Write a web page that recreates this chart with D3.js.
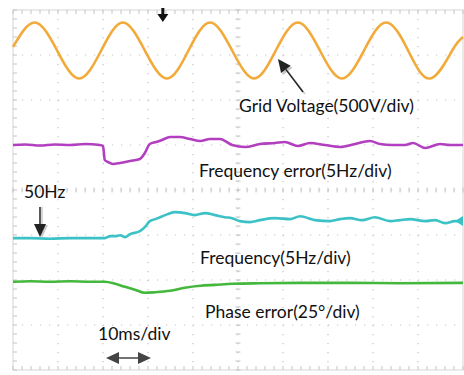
<!DOCTYPE html>
<html>
<head>
<meta charset="utf-8">
<script src="https://cdn.jsdelivr.net/npm/d3@7"></script>
<style>
  body { margin: 0; background: #fff; }
  text { font-family: Lato, "Open Sans", sans-serif; fill: #111; }
</style>
</head>
<body>
<script>
// scope screen: 10 x 8 divisions, 10 ms/div
var xDivs = 10, yDivs = 8, msPerDiv = 10;

// grid voltage (time in ms, volts)
var voltMs = [0, 4.9, 9.8, 14.7, 19.6, 24.4, 29.3, 34.2, 39.0, 43.8, 48.7, 53.6, 58.4, 63.3, 68.2, 73.1, 78.0, 82.9, 87.8, 92.7, 97.6, 100];
var voltV  = [40, 311, 0, -311, 0, 311, 0, -311, 0, 311, 0, -311, 0, 311, 0, -311, 0, 311, 0, -311, 0, 150];

// frequency error (ms, Hz)
var ferrMs = [0, 2.7, 6.0, 9.3, 12.7, 16.0, 19.3, 20.0, 20.4, 21.1, 22.2, 23.8, 26.0, 28.2, 29.3, 30.4, 31.8, 33.1, 34.9, 37.1, 39.3, 41.6, 43.8, 46.0, 48.7, 51.6, 54.9, 58.2, 60.4, 63.3, 66.0, 69.3, 72.7, 76.0, 79.3, 81.6, 84.2, 87.1, 88.9, 91.6, 94.9, 97.1, 100];
var ferrHz = [0, 0.06, -0.06, 0.06, 0, 0.11, 0, -0.11, -1.67, -1.89, -2.11, -2.0, -1.78, -1.56, -0.89, 0.11, 0.33, 0.56, 0.89, 0.89, 0.67, 0.44, 0.67, 0.67, 0, -0.22, 0.11, 0.22, 0.33, -0.11, 0.22, 0, -0.22, 0.11, 0.44, 0.11, 0, 0, 0.22, -0.33, 0.11, 0, 0];

// frequency (ms, Hz)
var freqMs = [0, 3.8, 8.2, 12.7, 17.1, 20.4, 21.6, 22.7, 23.8, 24.9, 26.0, 28.2, 29.3, 30.4, 31.6, 32.7, 34.4, 36.0, 38.2, 40.4, 42.7, 44.9, 47.1, 48.7, 50.4, 52.7, 54.9, 58.2, 61.6, 63.8, 67.1, 70.4, 72.7, 74.9, 77.6, 80.4, 83.8, 86.0, 88.2, 91.6, 93.8, 96.0, 98.2, 100];
var freqHz = [50, 50, 49.94, 50, 50, 50, 50.22, 50.22, 50.33, 50.11, 50.44, 50.78, 51.22, 51.89, 52.11, 52.33, 52.67, 52.89, 52.78, 52.56, 52.78, 52.56, 52.33, 52.22, 51.89, 51.78, 52.0, 52.22, 52.11, 52.44, 52.0, 51.89, 52.11, 52.22, 52.0, 52.33, 51.89, 52.0, 52.11, 51.89, 52.0, 51.67, 51.89, 51.89];

// phase error (ms, degrees)
var phMs  = [0, 3.8, 8.2, 12.7, 17.1, 20.4, 22.7, 24.9, 27.1, 29.3, 31.6, 34.9, 38.2, 41.6, 44.9, 48.7, 54.9, 63.8, 74.9, 86.0, 100];
var phDeg = [0, 0.3, 0, 0.3, 0, 0, -1.1, -2.8, -4.4, -6.1, -5.8, -5.0, -3.3, -2.2, -1.7, -1.1, -0.8, -0.6, -0.6, -0.8, -0.6];

var W = 464, H = 375;
var mLeft = 13, mTop = 10, mRight = 463, mBottom = 370;

var svg = d3.select("body").append("svg")
    .attr("width", W)
    .attr("height", H);

var x = d3.scaleLinear().domain([0, xDivs * msPerDiv]).range([mLeft, mRight]);
var y = d3.scaleLinear().domain([-yDivs / 2, yDivs / 2]).range([mBottom, mTop]);

var minor = (mRight - mLeft) / xDivs / 5;
var gridCol = "#c4c4c4";

// dotted grid lines
var g = svg.append("g");
d3.range(1, xDivs).forEach(function(i) {
  g.append("line")
    .attr("x1", x(i * msPerDiv)).attr("x2", x(i * msPerDiv))
    .attr("y1", mTop).attr("y2", mBottom)
    .attr("stroke", gridCol).attr("stroke-width", 1.2)
    .attr("stroke-dasharray", "1.2," + (minor - 1.2));
});
d3.range(-yDivs / 2 + 1, yDivs / 2).forEach(function(j) {
  g.append("line")
    .attr("x1", mLeft).attr("x2", mRight)
    .attr("y1", y(j)).attr("y2", y(j))
    .attr("stroke", gridCol).attr("stroke-width", 1.2)
    .attr("stroke-dasharray", "1.2," + (minor - 1.2));
});

// border
g.append("rect")
  .attr("x", mLeft).attr("y", mTop)
  .attr("width", mRight - mLeft).attr("height", mBottom - mTop)
  .attr("fill", "none").attr("stroke", "#d6d6d6").attr("stroke-width", 1);

// minor ticks on centre lines and border
var d = "";
for (var px = mLeft; px <= mRight + 0.1; px += minor) {
  d += "M" + px + "," + (y(0) - 2.5) + "v5";
  d += "M" + px + "," + mTop + "v4";
  d += "M" + px + "," + mBottom + "v-4";
}
for (var py = mTop; py <= mBottom + 0.1; py += minor) {
  d += "M" + (x(50) - 2.5) + "," + py + "h5";
  d += "M" + mLeft + "," + py + "h4";
}
g.append("path").attr("d", d)
  .attr("stroke", gridCol).attr("stroke-width", 1).attr("fill", "none");

// traces: each channel has its own units per div and offset in divs
var channels = [
  {ms: voltMs, v: voltV,  perDiv: 500, offset: 3.1,   base: 0,  color: "#f2aa3a", curve: d3.curveNatural},
  {ms: ferrMs, v: ferrHz, perDiv: 5,   offset: 1.0,   base: 0,  color: "#b23fbf", curve: d3.curveMonotoneX},
  {ms: freqMs, v: freqHz, perDiv: 5,   offset: -1.07, base: 50, color: "#3cc2c6", curve: d3.curveMonotoneX},
  {ms: phMs,   v: phDeg,  perDiv: 25,  offset: -2.04, base: 0,  color: "#44b83c", curve: d3.curveMonotoneX}
];

channels.forEach(function(c) {
  var line = d3.line()
    .x(function(d, i) { return x(c.ms[i]); })
    .y(function(d) { return y(c.offset + (d - c.base) / c.perDiv); })
    .curve(c.curve);
  svg.append("path")
    .attr("d", line(c.v))
    .attr("fill", "none")
    .attr("stroke", c.color)
    .attr("stroke-width", 2.6)
    .attr("stroke-linejoin", "round");
});

// channel marker on right edge (frequency)
var fy = y(-1.07 + (51.9 - 50) / 5);
svg.append("path")
  .attr("d", "M" + (mRight - 8) + "," + fy + "l8,-5v10z")
  .attr("fill", "#3cc2c6");

// trigger marker
var tx = x(33.3);
svg.append("path")
  .attr("d", "M" + (tx - 1.5) + ",8h3v6h4l-5.5,8l-5.5,-8h4z")
  .attr("fill", "#111");

// labels
function label(txt, px, py) {
  svg.append("text").attr("x", px).attr("y", py)
    .attr("font-size", 17.5).text(txt);
}
label("Grid Voltage(500V/div)", 239, 112);
label("Frequency error(5Hz/div)", 199, 177);
label("50Hz", 24, 198);
label("Frequency(5Hz/div)", 200, 264);
label("Phase error(25\u00b0/div)", 205, 318);
label("10ms/div", 98, 340);

// arrows
function arrow(x1, y1, x2, y2, col) {
  var a = Math.atan2(y2 - y1, x2 - x1), L = 13, w = 6;
  var bx = x2 - L * Math.cos(a), by = y2 - L * Math.sin(a);
  svg.append("line")
    .attr("x1", x1).attr("y1", y1).attr("x2", bx).attr("y2", by)
    .attr("stroke", col).attr("stroke-width", 1.5);
  svg.append("path")
    .attr("d", "M" + x2 + "," + y2 +
      "L" + (bx + w * Math.sin(a)) + "," + (by - w * Math.cos(a)) +
      "L" + (bx - w * Math.sin(a)) + "," + (by + w * Math.cos(a)) + "Z")
    .attr("fill", col);
}
arrow(305, 94, 280, 61, "#c8c8c8");
arrow(303, 92, 278, 59, "#222");
arrow(42, 207, 42, 238, "#c8c8c8");
arrow(40, 207, 40, 237, "#222");
arrow(128, 358, 106, 358, "#444");
arrow(128, 358, 151, 358, "#444");
</script>
</body>
</html>
